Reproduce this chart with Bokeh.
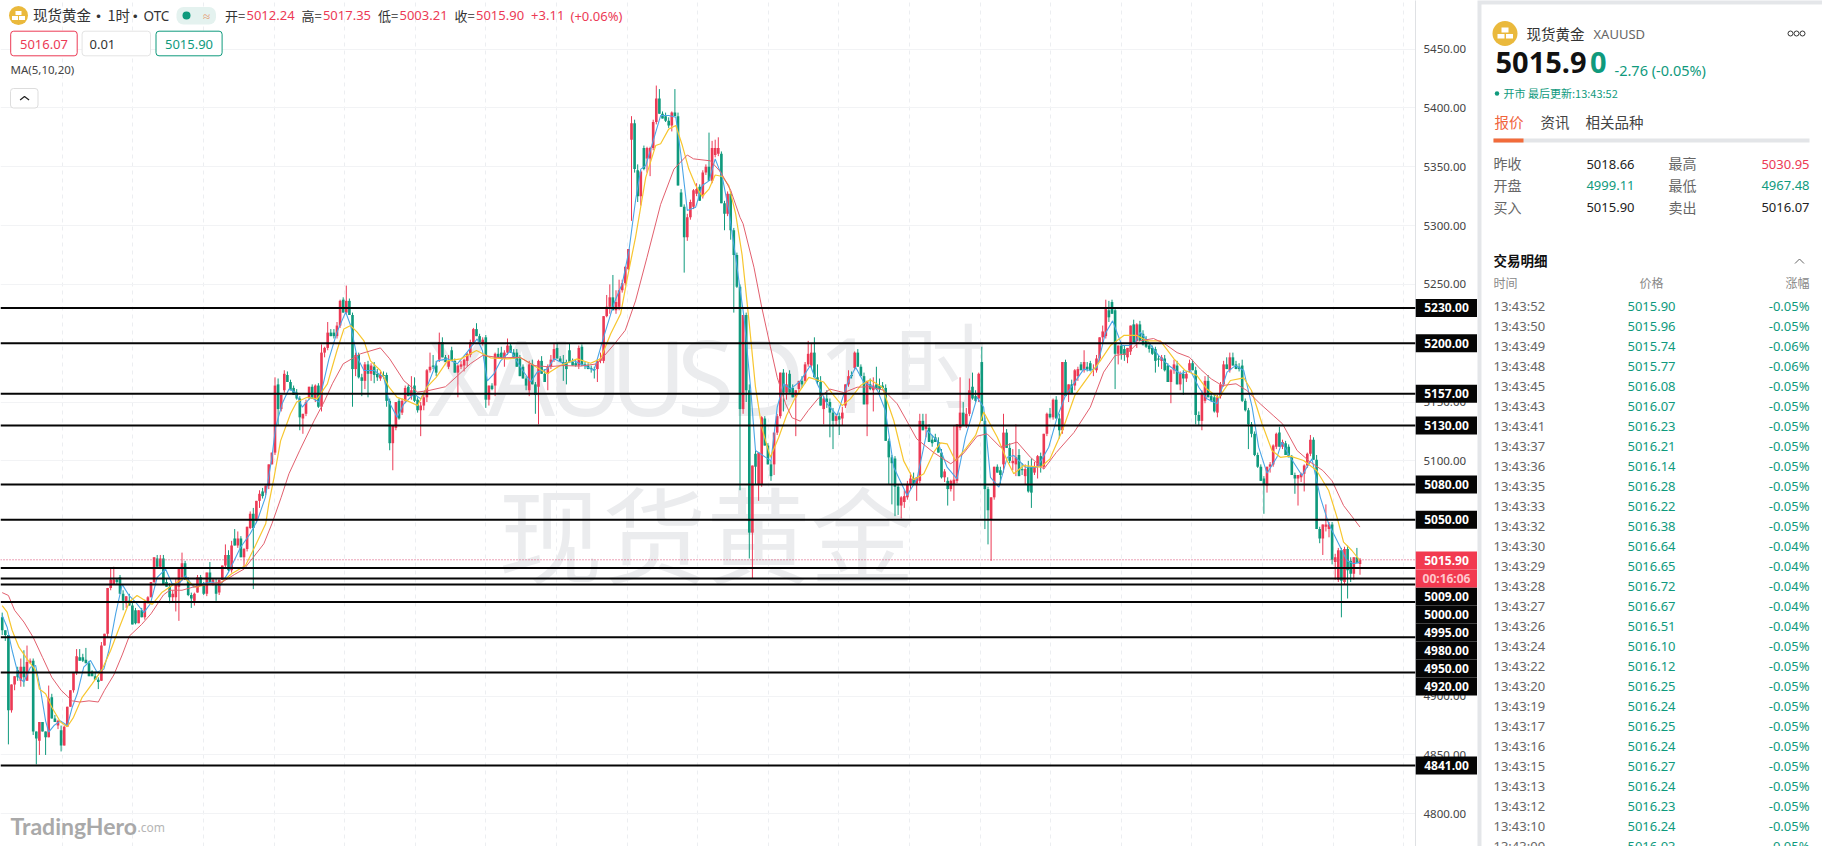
from bokeh.plotting import figure
from bokeh.layouts import row
from bokeh.models import Range1d, FixedTicker, NumeralTickFormatter, Span
from bokeh.core.properties import value
from bokeh.embed import file_html
from bokeh.resources import INLINE

opens = [
4967,4956,4952,4888,4910,4922,4913,4925,4913,4928,
4930,4870,4862,4878,4870,4865,4899,4881,4875,4871,
4858,4874,4891,4905,4920,4933,4933,4931,4928,4921,
4917,4914,4913,4943,4953,4992,4995,4999,5001,4987,
4979,4981,4977,4973,4962,4973,4967,4979,4984,4997,
5017,5010,5017,4997,4993,4984,4984,4993,5001,5013,
4998,4986,4981,4988,5001,4994,4987,5005,4997,4995,
4988,4999,5011,5020,5007,5034,5028,5034,5018,5025,
5043,5055,5049,5066,5074,5073,5079,5097,5107,5165,
5144,5160,5173,5167,5162,5158,5153,5136,5140,5154,
5163,5153,5164,5146,5192,5196,5209,5209,5206,5215,
5237,5226,5236,5224,5178,5190,5171,5168,5182,5174,
5180,5174,5170,5173,5173,5151,5115,5128,5151,5141,
5151,5163,5155,5164,5152,5143,5147,5154,5177,5181,
5181,5186,5201,5188,5180,5194,5185,5175,5180,5181,
5185,5190,5201,5212,5206,5200,5205,5152,5164,5164,
5191,5192,5187,5192,5198,5192,5192,5187,5180,5170,
5160,5182,5165,5163,5185,5174,5174,5180,5186,5196,
5187,5184,5184,5194,5184,5183,5181,5197,5182,5181,
5179,5178,5178,5185,5185,5223,5231,5239,5228,5231,
5245,5251,5263,5373,5387,5347,5325,5366,5357,5357,
5366,5388,5408,5395,5393,5389,5385,5396,5393,5328,
5316,5290,5307,5316,5327,5333,5325,5345,5350,5338,
5360,5361,5361,5319,5310,5327,5296,5275,5248,5144,
5224,5160,5039,5106,5080,5080,5136,5113,5097,5097,
5124,5138,5175,5158,5174,5162,5154,5161,5168,5168,
5182,5181,5192,5171,5167,5144,5153,5150,5141,5134,
5138,5136,5147,5165,5173,5179,5192,5180,5172,5148,
5165,5160,5165,5164,5164,5162,5117,5103,5102,5078,
5062,5065,5069,5080,5085,5080,5083,5134,5127,5128,
5118,5120,5116,5107,5086,5083,5076,5080,5083,5128,
5141,5130,5140,5163,5155,5153,5184,5134,5076,5050,
5069,5095,5092,5097,5124,5111,5098,5097,5105,5093,
5087,5095,5095,5090,5095,5104,5095,5123,5140,5137,
5152,5136,5126,5184,5157,5165,5164,5172,5182,5177,
5180,5183,5177,5177,5187,5205,5206,5228,5235,5228,
5191,5198,5195,5188,5193,5216,5202,5216,5208,5202,
5198,5196,5195,5187,5185,5187,5181,5167,5177,5181,
5165,5174,5170,5177,5183,5177,5139,5134,5151,5168,
5155,5154,5141,5155,5165,5182,5177,5188,5182,5180,
5181,5151,5143,5131,5123,5105,5095,5085,5079,5095,
5097,5112,5124,5112,5115,5112,5103,5088,5085,5086,
5089,5096,5106,5118,5101,5042,5034,5044,5042,5046,
5014,4999,5024,4997,5025,5015,5004,5018,5012.24]
highs = [
4971,4956,4952,4910,4917,4925,4932,4939,4943,4932,
4932,4870,4878,4878,4870,4909,4902,4884,4880,4875,
4875,4891,4905,4920,4940,4940,4936,4941,4930,4922,
4921,4916,4946,4953,4992,5009,5010,5000,5003,4990,
4985,4987,4980,4975,4973,4975,4982,4985,4997,5018,
5020,5020,5020,5000,4996,4990,5000,5009,5022,5015,
5001,4988,4988,5003,5003,4997,5005,5014,5000,5000,
4999,5011,5029,5024,5032,5042,5040,5036,5026,5044,
5057,5060,5066,5075,5077,5079,5097,5107,5171,5170,
5156,5177,5176,5169,5164,5161,5155,5140,5152,5163,
5165,5165,5166,5199,5197,5218,5212,5212,5218,5237,
5239,5249,5238,5226,5192,5192,5174,5184,5185,5183,
5184,5178,5176,5176,5175,5153,5130,5150,5153,5153,
5164,5165,5172,5171,5154,5150,5156,5178,5192,5190,
5185,5209,5205,5190,5190,5197,5187,5182,5185,5187,
5192,5203,5213,5217,5208,5205,5207,5164,5166,5192,
5196,5197,5194,5204,5200,5195,5195,5190,5182,5172,
5185,5186,5167,5186,5189,5178,5182,5190,5200,5200,
5189,5190,5186,5200,5187,5186,5198,5199,5184,5183,
5181,5180,5186,5192,5223,5241,5250,5258,5245,5254,
5254,5265,5280,5393,5390,5352,5347,5368,5367,5367,
5390,5419,5416,5397,5396,5392,5397,5416,5396,5331,
5318,5310,5322,5331,5336,5335,5347,5352,5379,5372,
5373,5375,5363,5321,5329,5329,5298,5277,5250,5224,
5226,5165,5096,5110,5107,5138,5138,5115,5100,5124,
5140,5175,5178,5175,5177,5165,5160,5168,5172,5184,
5202,5200,5205,5182,5172,5155,5160,5153,5145,5140,
5141,5146,5165,5177,5176,5193,5195,5182,5175,5168,
5170,5171,5180,5170,5167,5165,5119,5105,5104,5080,
5070,5075,5083,5090,5090,5086,5140,5140,5140,5131,
5122,5123,5120,5110,5093,5086,5084,5130,5131,5171,
5150,5145,5170,5175,5160,5175,5197,5137,5078,5069,
5095,5097,5095,5140,5127,5115,5110,5131,5110,5098,
5097,5100,5102,5099,5105,5107,5123,5141,5145,5153,
5155,5140,5184,5186,5165,5169,5178,5180,5184,5194,
5184,5185,5182,5190,5205,5215,5237,5236,5237,5230,
5198,5200,5198,5196,5215,5220,5217,5219,5211,5206,
5200,5198,5197,5190,5190,5190,5183,5178,5186,5185,
5176,5177,5176,5186,5186,5180,5142,5160,5172,5173,
5158,5156,5156,5167,5185,5188,5192,5192,5185,5183,
5186,5153,5145,5133,5125,5107,5097,5087,5095,5099,
5114,5124,5129,5118,5117,5114,5105,5090,5088,5090,
5097,5107,5122,5120,5105,5044,5046,5063,5048,5048,
5021,5026,5026,5027,5028,5018,5018,5026,5017.35]
lows = [
4952,4947,4859,4886,4905,4913,4908,4908,4913,4928,
4867,4842,4850,4870,4850,4865,4881,4878,4872,4853,
4858,4874,4891,4903,4918,4930,4929,4928,4917,4917,
4914,4906,4913,4943,4950,4990,4995,4995,4987,4973,
4975,4977,4961,4961,4962,4967,4965,4979,4984,4996,
5010,5008,4995,4993,4979,4980,4972,4964,4998,4999,
4985,4975,4977,4988,4994,4986,4985,4997,4994,4981,
4986,4999,5009,5006,5005,5028,5026,5018,5008,5023,
5042,4991,5047,5060,5068,5071,5076,5097,5105,5130,
5142,5158,5167,5160,5156,5152,5126,5123,5138,5152,
5153,5150,5145,5142,5188,5194,5206,5204,5204,5213,
5226,5224,5224,5146,5172,5170,5155,5161,5154,5168,
5166,5168,5168,5170,5146,5109,5092,5126,5135,5139,
5149,5155,5152,5150,5141,5121,5143,5150,5175,5178,
5172,5184,5188,5184,5178,5185,5175,5154,5178,5176,
5180,5188,5199,5206,5201,5198,5145,5147,5160,5155,
5188,5187,5180,5190,5192,5187,5180,5172,5170,5160,
5155,5165,5140,5131,5174,5167,5160,5178,5184,5187,
5184,5168,5165,5184,5181,5180,5178,5181,5178,5178,
5175,5170,5167,5183,5183,5222,5225,5228,5225,5228,
5243,5249,5262,5304,5345,5320,5317,5347,5345,5342,
5364,5386,5395,5391,5388,5383,5380,5393,5334,5316,
5260,5287,5305,5314,5325,5321,5323,5343,5338,5336,
5358,5359,5319,5296,5308,5288,5226,5247,5075,5140,
5150,5017,5000,5080,5066,5078,5113,5097,5083,5088,
5122,5136,5142,5152,5158,5154,5121,5158,5162,5166,
5180,5179,5171,5165,5147,5131,5145,5120,5110,5130,
5122,5130,5145,5163,5170,5177,5180,5172,5148,5121,
5160,5142,5160,5158,5161,5117,5080,5063,5053,5054,
5051,5060,5067,5076,5080,5066,5081,5126,5120,5116,
5112,5116,5107,5085,5082,5062,5074,5066,5081,5126,
5130,5128,5138,5152,5150,5150,5134,5042,5029,5015,
5067,5090,5080,5090,5111,5098,5092,5087,5087,5088,
5080,5073,5060,5088,5085,5090,5093,5121,5136,5135,
5136,5119,5123,5155,5150,5157,5160,5168,5177,5175,
5176,5176,5172,5175,5185,5200,5204,5218,5225,5161,
5182,5186,5185,5183,5190,5201,5196,5202,5198,5196,
5192,5190,5175,5180,5178,5176,5167,5149,5174,5165,
5160,5156,5167,5175,5177,5131,5130,5126,5149,5154,
5150,5141,5137,5153,5163,5178,5175,5181,5178,5176,
5150,5142,5110,5120,5104,5094,5083,5055,5073,5090,
5095,5110,5112,5110,5105,5103,5088,5072,5062,5082,
5074,5094,5104,5101,5042,5030,5020,5040,5035,5012,
4999,4997,4967,4995,4983,4997,4999,5013,5003.21]
closes = [
4956,4952,4888,4910,4917,4916,4925,4916,4929,4930,
4870,4864,4878,4870,4865,4898,4881,4878,4879,4858,
4874,4891,4905,4920,4934,4930,4930,4928,4917,4917,
4914,4912,4943,4953,4992,4999,4999,4997,4987,4981,
4985,4977,4961,4962,4973,4967,4980,4984,4997,5018,
5010,5017,4995,4993,4984,4987,4995,5009,5013,4999,
4986,4983,4987,5001,4994,4987,5005,4997,4999,4987,
4999,5011,5020,5007,5028,5028,5034,5018,5025,5044,
5055,5043,5066,5072,5070,5079,5097,5107,5164,5144,
5156,5174,5167,5160,5156,5153,5137,5140,5150,5163,
5153,5164,5146,5192,5196,5209,5206,5206,5215,5236,
5226,5236,5224,5178,5190,5171,5168,5182,5174,5181,
5173,5171,5173,5172,5151,5115,5130,5150,5136,5151,
5162,5155,5160,5151,5143,5147,5154,5177,5180,5180,
5175,5201,5188,5184,5185,5185,5175,5181,5182,5186,
5191,5201,5212,5206,5201,5203,5152,5164,5161,5191,
5188,5187,5192,5198,5192,5187,5180,5172,5170,5164,
5182,5165,5156,5185,5174,5167,5180,5186,5195,5187,
5184,5181,5178,5184,5181,5181,5196,5181,5181,5178,
5178,5177,5185,5187,5223,5231,5239,5228,5235,5245,
5251,5265,5280,5387,5348,5325,5346,5348,5366,5366,
5388,5408,5395,5391,5389,5385,5396,5393,5334,5316,
5290,5307,5320,5330,5331,5321,5345,5350,5338,5366,
5366,5366,5319,5310,5327,5296,5275,5248,5144,5224,
5160,5039,5096,5095,5107,5137,5113,5097,5087,5124,
5138,5175,5158,5165,5158,5154,5160,5168,5165,5182,
5191,5192,5171,5167,5147,5153,5150,5141,5134,5138,
5135,5141,5165,5172,5172,5192,5180,5172,5148,5168,
5161,5164,5161,5161,5162,5117,5103,5098,5078,5062,
5069,5070,5080,5085,5080,5086,5134,5126,5130,5116,
5115,5116,5107,5086,5091,5076,5083,5084,5131,5141,
5130,5140,5160,5153,5151,5174,5134,5076,5058,5069,
5095,5090,5088,5124,5111,5100,5100,5103,5087,5092,
5093,5074,5073,5095,5104,5095,5123,5140,5137,5152,
5136,5126,5184,5155,5165,5157,5177,5178,5177,5184,
5178,5177,5177,5187,5205,5210,5229,5222,5225,5191,
5198,5191,5190,5196,5215,5201,5216,5202,5199,5197,
5195,5191,5185,5186,5188,5177,5167,5177,5182,5165,
5174,5170,5174,5183,5177,5139,5134,5157,5168,5154,
5151,5142,5154,5165,5182,5178,5188,5181,5178,5178,
5151,5143,5131,5123,5105,5095,5083,5080,5095,5097,
5113,5123,5112,5116,5105,5103,5088,5085,5088,5089,
5096,5106,5118,5101,5042,5034,5046,5046,5046,5016,
5018,5024,4998,5025,5007,5004,5018,5013,5015.90]

ma5_x = [
0,1.6,3.2,5.4,7,9.1,10.8,12.4,14,15,16.7,18.8,21,22.6,24.2,26.3,28.5,30.6,32.8,34.4,
36.6,38.7,40.9,43,45.7,47.8,50,52.7,54.8,57,59.1,61.8,64.5,67.7,70.4,73,76.9,80,82.3,84.9,
87,88.2,90.3,92.5,94.6,96.8,99.5,102.2,105.4,108,110.8,112.4,114.5,116.7,120,123.1,124.8,127.4,129.6,132.8,
135,137,140.3,143.6,146.8,150,153.2,154.9,156.5,158.6,160.8,164,167.2,170.5,172.6,175.8,178,181.2,184.4,187.7,
190.9,194,197.3,200,202.2,204.3,206,207.6,209.7,212.4,215,217.3,218.9,221,223.7,225.8,228,230,232.3,234.4,
236.6,239.3,241.4,243,248,250,252.1,254.3,257.5,260.7,262.9,266.1,269.3,272.6,275.3,277.9,282.2,284.9,287.6,291.9,
295.1,298.4,301.6,304.8,308,310.7,314.5,316.6,318.8,321.5,324.2,326.3,330.1,333.9,337.6,340.3,343,348.9,351,353.2,
355.8,358.2,361.2,363.4,365.5,367.1,369.8,373,376.3,380,383.3,386,388.6,391.9,395.1,397.8,400.5,403.2,405.3,408,
411.2,412.8,415.5,419.3,422.5,425.2,427.9,431.1,433.8,436,437.9]
ma5 = [
4968.6,4958.6,4938.8,4916,4912,4924.6,4926,4904.8,4879,4869.4,4875,4879,4875,4890.6,4902,4924.6,4930.3,4920.4,4923,4938.8,
4970,4995,4985.6,4980,4971,4978.5,5001,5008,4995.5,4995.5,5002.5,4992.6,4995.5,4997,4994,5005.4,5026.6,5038,5049.3,5069,
5103,5128.6,5148.5,5161,5158.4,5145.6,5154,5150,5186.7,5209.4,5226.4,5215,5188,5176.8,5176.8,5171,5150,5137,5148.5,5157,
5152.7,5162.6,5185,5186.7,5182.5,5192.4,5203.7,5193.8,5168,5174,5185,5193.8,5179.6,5167,5175.4,5178,5186.7,5182.5,5185,5181,
5176.8,5205,5233.5,5250.5,5279,5321.3,5348,5351,5369.5,5393.5,5393.5,5392,5361,5312.8,5315.6,5334,5338,5356.7,5341,5312.8,
5273,5222,5162.7,5108.8,5100,5145.6,5165.5,5161,5168,5181,5165.5,5148.5,5138.6,5165.5,5179.6,5166.9,5161,5142.8,5094.6,5070.6,
5084.7,5125.8,5117.3,5094.6,5084.7,5120,5154,5145.6,5086,5077.6,5103,5104.6,5094.6,5094.6,5111.6,5137,5155.5,5178,5176.8,5179.6,
5208,5219,5198,5198,5200.9,5209.4,5200.9,5189.6,5181,5174,5176.8,5162.6,5152.7,5148.5,5175.4,5181,5176.8,5145.6,5111.6,5089.5,
5103,5115.9,5103,5087.6,5101.7,5069,5046.5,5029.5,5015,5012.5,5013.9]
ma10_x = [
0,1.6,3.2,5.4,8,10.8,12,14,16,18.8,21,23,25.8,29,32.3,35,37.6,41,43.5,46.2,
48.4,51.6,54.8,58.6,62.4,66.7,70,74,78.5,81.7,85,86,87.7,89.8,93,95,98.4,101.6,104.9,108,
110.2,112.4,114.5,116.7,118.8,122,124.8,127.4,130.7,134,137,140,143.6,147.9,153,157.5,163,167,171.5,175.8,
180,185.5,189.8,193,196.3,199.5,201.7,204.3,207.6,210.8,212.4,215,217.3,219.4,221.5,223.7,225.8,228,230,232.3,
234.4,236.6,238.7,240.9,243,245,247.8,250.5,253,255.9,260.2,265,268.3,271,273.6,276.9,280,283.9,287.6,290.8,
294,297.3,300.5,302.7,304.8,307.5,310.7,314,316.6,321,324.2,326.3,329.5,335,338,342,346,351,354.2,357.5,
361.8,366,369.3,373.6,378,381.6,385.4,388.6,392.4,396.2,400.5,403,406.4,409.6,412.3,415.5,419.8,424,427.9,430.6,
432.7,435.4,437.9]
ma10 = [
4977,4971.4,4956,4941.6,4931.7,4921.8,4906,4902,4890.6,4878,4874,4882,4899,4910.5,4923,4939,4957,4980,4985.6,4981,
4978,4988.4,4994,5000.6,4992.6,4995.5,4995,5004,5011,5028,5046.5,5063.5,5086,5117,5140,5150,5154,5152.7,5165.5,5193.8,
5212,5215,5209.4,5202,5185,5176.8,5162.6,5154,5151,5147,5162.6,5171,5185,5186.7,5193.8,5187.6,5186.7,5188,5181,5174,
5181,5186.7,5183,5186.7,5208,5225,5256,5290,5341,5368,5369.5,5382,5385,5368,5348,5334,5324.7,5331,5343,5341.7,
5334,5310,5274.6,5219,5162.6,5128.6,5103,5120,5138.6,5154,5171,5167,5155.5,5147,5152.7,5164,5169,5162.6,5134.3,5100,
5084,5089,5107.4,5115.3,5114.5,5100,5110,5121.6,5141.4,5120,5100,5089,5096,5094.6,5101.7,5125.8,5155.6,5174,5185,5198,
5206.6,5206.6,5202,5202,5186.7,5176.8,5172.5,5161,5153.6,5168.3,5170.6,5159.8,5131.5,5108.8,5103,5104,5100.3,5091.8,5074.8,5052,
5030.9,5023.8,5015.3]
ma20_x = [
0,2,4,7,10,13,16,19,22.6,25,28,31,33,36,38.7,41,45,48,52,54,
58,62,67,71,75,78,81,84.4,87,90,92.5,96,100.6,104,106.5,110,115.6,122,125,129.6,
134,138,143,147,151,155,161,167,171.5,176,181,186.6,192,197.4,201,204.3,208,212.4,216.7,221,
223,228.5,231.8,235,238,239,242.5,245,247.8,250,252.7,254.8,257.5,260,263.4,267,271.5,275.8,279.6,284.4,
288.7,292,295,300.5,306,310,314.5,317.7,322,327.4,331.7,336,340,345.7,351,355.3,359,362.8,367,371.4,
375,379,383,386.5,390,393.5,398,401.5,405.8,410,413,417.7,422,426,429,432.7,436,438]
ma20 = [
4988,4985.6,4973,4963,4950,4933,4916,4905,4896,4895,4896,4895,4905,4918,4935,4951,4961,4970,4986,4990,
4990,4993,4995.5,4997,5003.5,5008,5018,5029.5,5046.5,5069,5089,5109,5134,5151,5165.5,5182.5,5191,5196,5186.7,5168,
5158.4,5160,5163,5172.6,5182.5,5189.6,5187.6,5188,5181,5180,5181,5180.5,5182.5,5199,5211,5236,5273,5318,5348,5360,
5356.7,5355,5345.4,5330,5307,5301.5,5264.6,5230.7,5197,5171,5148.5,5136.6,5133.7,5142.8,5153.6,5161,5158,5162.6,5163,5160,
5148.5,5133,5118.7,5107,5097.5,5106,5121,5123,5111.6,5116,5103,5093,5107,5124,5145.6,5175.4,5189.6,5191,5202,5204,
5199.5,5192,5188,5178,5169.7,5164,5165.5,5159.8,5148.5,5138.6,5131.5,5108.8,5098.9,5091.8,5083,5062,5050.7,5043.7]

level_prices = [5230, 5200, 5157, 5130, 5080, 5050, 5009, 5000, 4995, 4980, 4950, 4920, 4841]
price_ticks = [5450, 5400, 5350, 5300, 5250, 5200, 5150, 5100, 5050, 5000, 4950, 4900, 4850, 4800]
last_price = 5015.90

trade_times = ["13:43:52","13:43:50","13:43:49","13:43:48","13:43:45","13:43:43","13:43:41","13:43:37","13:43:36","13:43:35",
"13:43:33","13:43:32","13:43:30","13:43:29","13:43:28","13:43:27","13:43:26","13:43:24","13:43:22","13:43:20",
"13:43:19","13:43:17","13:43:16","13:43:15","13:43:13","13:43:12","13:43:10","13:43:09"]
trade_prices = ["5015.90","5015.96","5015.74","5015.77","5016.08","5016.07","5016.23","5016.21","5016.14","5016.28",
"5016.22","5016.38","5016.64","5016.65","5016.72","5016.67","5016.51","5016.10","5016.12","5016.25",
"5016.24","5016.25","5016.24","5016.27","5016.24","5016.23","5016.24","5016.03"]
trade_pcts = ["-0.05%","-0.05%","-0.06%","-0.06%","-0.05%","-0.05%","-0.05%","-0.05%","-0.05%","-0.05%",
"-0.05%","-0.05%","-0.04%","-0.04%","-0.04%","-0.04%","-0.04%","-0.05%","-0.05%","-0.05%",
"-0.05%","-0.05%","-0.05%","-0.05%","-0.05%","-0.05%","-0.05%","-0.05%"]

RED = "#ec3a55"
GREEN = "#0f9a7d"
CJK = "Noto Sans CJK SC"
LAT = "Noto Sans"
PX = 3.1          # candle spacing, px
FRAME_W = 1415
H = 846
Y_TOP, Y_BOT = 5491.3, 4772.2

p = figure(width=1477, height=H, output_backend="svg", toolbar_location=None,
           x_range=Range1d(-1.7 / PX, (FRAME_W - 1.7) / PX), y_range=Range1d(Y_BOT, Y_TOP),
           y_axis_location="right", min_border_left=0, min_border_top=0, min_border_bottom=0,
           min_border_right=62, background_fill_color="white", border_fill_color="white",
           outline_line_color=None)
p.extra_x_ranges = {"px": Range1d(0, FRAME_W)}
p.extra_y_ranges = {"px": Range1d(H, 0)}
p.xaxis.visible = False
ax = p.yaxis[0]
ax.ticker = FixedTicker(ticks=price_ticks)
ax.formatter = NumeralTickFormatter(format="0.00")
ax.major_tick_line_color = None
ax.minor_tick_line_color = None
ax.axis_line_color = "#dfe1e4"
ax.major_label_text_font = LAT
ax.major_label_text_font_size = "11.5px"
ax.major_label_text_color = "#444444"
ax.major_label_standoff = 2
p.ygrid.ticker = FixedTicker(ticks=price_ticks)
p.ygrid.grid_line_color = "#f2f3f5"
p.xgrid.ticker = FixedTicker(ticks=[(61.7 + 70.6 * k - 1.7) / PX for k in range(20)])
p.xgrid.grid_line_color = "#eceef1"
p.xgrid.grid_line_dash = "4 4"


def txt(f, x, y, s, size, color, font=LAT, align="left", style="normal", px=True):
    kw = dict(x_range_name="px", y_range_name="px") if px else {}
    f.text(x=[x], y=[y], text=[s], text_font=value(font), text_font_size=size, text_color=color,
           text_align=align, text_baseline="middle", text_font_style=style, **kw)


def qd(f, l, r, t, b, fill, line=None, radius=0, px=True):
    kw = dict(x_range_name="px", y_range_name="px") if px else {}
    f.quad(left=[l], right=[r], top=[t], bottom=[b], fill_color=fill, line_color=line,
           border_radius=radius, **kw)


# watermark
WM = "#ebecee"
NARROW = "Liberation Sans Narrow, Noto Sans"
for x, s in [(458, "X"), (521, "A"), (585, "U"), (648, "U"), (705, "S"), (766, "D"), (847, "1")]:
    txt(p, x, 375, s, "105px", WM, NARROW, "center")
txt(p, 940, 360, "时", "92px", WM, CJK, "center")
txt(p, 706, 530, "现货黄金", "104px", WM, CJK, "center")

# candles
idx = list(range(len(closes)))
cols = [RED if c >= o else GREEN for o, c in zip(opens, closes)]
p.segment(x0=idx, x1=idx, y0=lows, y1=highs, line_color=cols, line_width=1)
p.vbar(x=idx, width=0.85, top=[max(o, c) for o, c in zip(opens, closes)],
       bottom=[min(o, c) for o, c in zip(opens, closes)], fill_color=cols, line_color=None)

# moving averages
p.line(ma5_x, ma5, line_color="#4aa5e6", line_width=1.1)
p.line(ma10_x, ma10, line_color="#f7c62f", line_width=1.2)
p.line(ma20_x, ma20, line_color="#e2606e", line_width=1)

# levels
for v in level_prices:
    p.add_layout(Span(location=v, dimension="width", line_color="#050505", line_width=2))
p.add_layout(Span(location=last_price, dimension="width", line_color="#d9456f", line_width=1, line_dash="1 2"))

# header
p.scatter(x=[18], y=[15], size=19, marker="circle", fill_color="#eab93c", line_color=None, x_range_name="px", y_range_name="px")
qd(p, 15, 21, 10.5, 14.5, "white"); qd(p, 11.5, 17.5, 15.5, 19.5, "white"); qd(p, 18.5, 24.5, 15.5, 19.5, "white")
txt(p, 32.6, 14, "现货黄金", "14.5px", "#333333", CJK)
txt(p, 98, 14, "·", "14px", "#333333", CJK, "center", "bold")
txt(p, 107, 14, "1时", "14.5px", "#333333", CJK)
txt(p, 134.7, 14, "·", "14px", "#333333", CJK, "center", "bold")
txt(p, 143, 15, "OTC", "13.5px", "#333333", LAT)
qd(p, 176, 215.5, 6.5, 24, "#e4f2ef", radius=7)
p.scatter(x=[186], y=[15], size=8, marker="circle", fill_color="#0f9a7d", line_color=None, x_range_name="px", y_range_name="px")
txt(p, 206, 15, "≈", "13px", "#e49a72", LAT, "center")
for x, s in [(224.5, "开="), (301, "高="), (377.5, "低="), (454, "收=")]:
    txt(p, x, 14.5, s, "13px", "#333333", CJK)
for x, s in [(246, "5012.24"), (322.4, "5017.35"), (399, "5003.21"), (475.5, "5015.90"), (530.6, "+3.11"), (570, "(+0.06%)")]:
    txt(p, x, 15, s, "13px", RED, LAT)
qd(p, 10.2, 76.7, 30.7, 55.3, "white", RED, 3)
qd(p, 81.6, 150, 30.7, 55.3, "white", "#e4e4e4", 3)
qd(p, 155.5, 221.6, 30.7, 55.3, "white", GREEN, 3)
txt(p, 43.5, 43.5, "5016.07", "13px", RED, LAT, "center")
txt(p, 89, 44, "0.01", "13px", "#333333", LAT)
txt(p, 188.5, 43.5, "5015.90", "13px", GREEN, LAT, "center")
txt(p, 10, 69, "MA(5,10,20)", "11.5px", "#444444", LAT)
qd(p, 10, 37.5, 88, 107.5, "white", "#dddddd", 3)
p.line(x=[19.6, 24, 28.6], y=[99.5, 96, 99.5], line_color="#222222", line_width=1.2, x_range_name="px", y_range_name="px")

# footer logo
txt(p, 10, 825, "TradingHero", "23px", "#a9a9a9", "Lato", style="bold")
txt(p, 137, 827, ".com", "12px", "#b5b5b5", LAT)

# price tags on the axis gutter: an overlay figure that shares the chart's price scale
t = figure(width=62, height=H, output_backend="svg", toolbar_location=None,
           x_range=Range1d(FRAME_W, 1477), y_range=Range1d(Y_BOT, Y_TOP), min_border=0,
           background_fill_alpha=0, border_fill_alpha=0, outline_line_color=None,
           styles={"position": "absolute", "left": f"{FRAME_W}px", "top": "0px"})
t.extra_y_ranges = {"px": Range1d(H, 0)}
t.axis.visible = False
t.grid.visible = False
stack_y = {5009: 596, 5000: 614, 4995: 632, 4980: 650, 4950: 668, 4920: 686}


def y_of(v):
    return 519.2 + (5050 - v) * 1.1765


def tag(yc, s, bg, fg, style="bold"):
    t.quad(left=[FRAME_W], right=[1477], top=[yc - 9], bottom=[yc + 9], fill_color=bg, line_color=None, y_range_name="px")
    t.text(x=[1446], y=[yc], text=[s], text_font=value(LAT), text_font_size="12px", text_color=fg,
           text_align="center", text_baseline="middle", text_font_style=style, y_range_name="px")


for v in level_prices:
    tag(stack_y.get(v, y_of(v)), f"{v:.2f}", "#050505", "white")
tag(560, "5015.90", "#f23a50", "white")
tag(578, "00:16:06", "#f23a50", "#ffc6cb")

# side panel
q = figure(width=345, height=H, output_backend="svg", toolbar_location=None,
           x_range=Range1d(1477, 1822), y_range=Range1d(H, 0), min_border=0,
           background_fill_color="#e4e6e9", border_fill_color="#e4e6e9", outline_line_color=None)
q.axis.visible = False
q.grid.visible = False
P = dict(px=False)
qd(q, 1481, 1822, 4, 846, "white", **P)
q.scatter(x=[1504.5], y=[33], size=25, marker="circle", fill_color="#eab93c", line_color=None)
qd(q, 1501, 1508, 27, 32, "white", **P); qd(q, 1497, 1504, 33.5, 38, "white", **P); qd(q, 1505.5, 1512.5, 33.5, 38, "white", **P)
txt(q, 1526, 33, "现货黄金", "14.5px", "#333333", CJK, **P)
txt(q, 1593, 33.5, "XAUUSD", "13px", "#666666", LAT, **P)
q.scatter(x=[1790, 1796, 1802], y=[33, 33, 33], size=5, marker="circle", fill_color="white", line_color="#333333", line_width=1)
txt(q, 1495, 62, "5015.9", "29px", "#111111", LAT, style="bold", **P)
txt(q, 1589.5, 62, "0", "29px", GREEN, LAT, style="bold", **P)
txt(q, 1614, 69.5, "-2.76 (-0.05%)", "14.5px", GREEN, LAT, **P)
q.scatter(x=[1496.5], y=[93], size=4.5, marker="circle", fill_color=GREEN, line_color=None)
txt(q, 1503, 92, "开市 最后更新:13:43:52", "11px", GREEN, CJK, **P)
txt(q, 1494, 121, "报价", "14.5px", "#f0643c", CJK, **P)
txt(q, 1540, 121, "资讯", "14.5px", "#444444", CJK, **P)
txt(q, 1585, 121, "相关品种", "14.5px", "#444444", CJK, **P)
qd(q, 1493, 1809, 138, 142, "#e3e5e8", **P)
qd(q, 1493, 1523, 138, 142, "#f26b3a", **P)
for y, a, av, ac, b, bv, bc in [(163.5, "昨收", "5018.66", "#222222", "最高", "5030.95", RED),
                                (185, "开盘", "4999.11", GREEN, "最低", "4967.48", GREEN),
                                (207, "买入", "5015.90", "#222222", "卖出", "5016.07", "#222222")]:
    txt(q, 1493, y - 1, a, "14px", "#666666", CJK, **P)
    txt(q, 1634, y, av, "13px", ac, LAT, "right", **P)
    txt(q, 1668, y - 1, b, "14px", "#666666", CJK, **P)
    txt(q, 1809, y, bv, "13px", bc, LAT, "right", **P)
txt(q, 1493, 259, "交易明细", "13.5px", "#111111", CJK, style="bold", **P)
q.line(x=[1794.5, 1799, 1803.5], y=[263, 258.5, 263], line_color="#666666", line_width=1)
txt(q, 1493, 282, "时间", "12px", "#888888", CJK, **P)
txt(q, 1651, 282, "价格", "12px", "#888888", CJK, "center", **P)
txt(q, 1809, 282, "涨幅", "12px", "#888888", CJK, "right", **P)
row_y = [305.5 + 20 * k for k in range(len(trade_times))]
q.text(x=[1493] * len(row_y), y=row_y, text=trade_times, text_font=value(LAT), text_font_size="13px",
       text_color="#666666", text_baseline="middle", text_align="left")
q.text(x=[1651] * len(row_y), y=row_y, text=trade_prices, text_font=value(LAT), text_font_size="13px",
       text_color=GREEN, text_baseline="middle", text_align="center")
q.text(x=[1809] * len(row_y), y=row_y, text=trade_pcts, text_font=value(LAT), text_font_size="13px",
       text_color=GREEN, text_baseline="middle", text_align="right")

page = row(p, q, spacing=0, styles={"position": "absolute", "left": "0px", "top": "0px"})
open("out.html", "w").write(file_html([page, t], INLINE))
